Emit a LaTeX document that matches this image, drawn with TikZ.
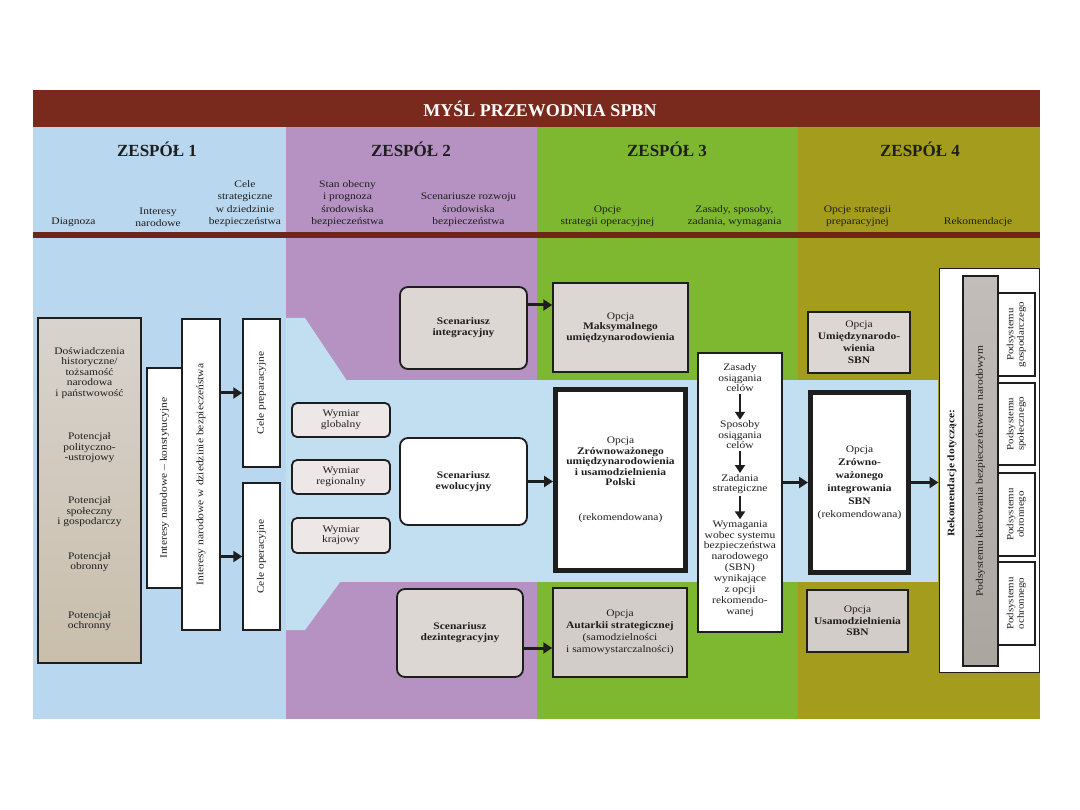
\documentclass[tikz,border=0pt]{standalone}
\usepackage{fontspec}
\setmainfont{Liberation Serif}
\newfontfamily\bodyf{Liberation Serif}[FakeStretch=1.15]
\usepackage{graphicx}
\usetikzlibrary{arrows.meta}
\newcommand\fsz[2]{\fontsize{#1}{#2}\selectfont}
\definecolor{colA}{HTML}{B9D7EE}
\definecolor{bandB}{HTML}{C2DEF1}
\definecolor{colB}{HTML}{B592C2}
\definecolor{colC}{HTML}{7DB830}
\definecolor{colD}{HTML}{A49C1D}
\definecolor{brownbar}{HTML}{7A2A1C}
\definecolor{ink}{HTML}{1E1E1E}
\definecolor{greyboxA}{HTML}{DDD7D4}
\definecolor{greyboxB}{HTML}{D3CDCA}
\definecolor{wymfill}{HTML}{EEE7E7}
\definecolor{diagtop}{HTML}{D8D3CE}
\definecolor{diagbot}{HTML}{C9BEAB}
\definecolor{bartop}{HTML}{C2BDB9}
\definecolor{barbot}{HTML}{ABA5A0}
\tikzset{
  bx/.style={draw=ink, line width=1.5pt, align=center, inner sep=1pt, text=ink,
             font=\bodyf\fsz{10}{10.5}},
  txt/.style={align=center, inner sep=0pt, text=ink, font=\bodyf\fsz{10}{10.5}},
  hdr/.style={align=center, inner sep=0pt, text=ink, font=\bodyf\fsz{10}{12.5}, anchor=south},
  team/.style={inner sep=0pt, text=ink, font=\bfseries\fsz{17}{18}},
  scen/.style={bx, rounded corners=8pt, line width=1.8pt},
  wym/.style={bx, rounded corners=5pt, line width=1.8pt, fill=wymfill},
  heavy/.style={bx, line width=5pt, fill=white},
  arr/.style={line width=3pt, draw=ink, -{Triangle[length=9pt,width=11pt]}},
  arrv/.style={line width=2.6pt, draw=ink, -{Triangle[length=8pt,width=10pt]}},
}
\begin{document}
\begin{tikzpicture}[x=1pt,y=1pt]
\fill[white] (0,0) rectangle (1080,-810);
\path[use as bounding box] (0,0) rectangle (1080,-810);
% columns
\fill[colA] (33,-127) rectangle (286,-719);
\fill[colB] (286,-127) rectangle (537,-719);
\fill[colC] (537,-127) rectangle (798,-719);
\fill[colD] (798,-127) rectangle (1040,-719);
\fill[brownbar] (33,-90) rectangle (1040,-127);
\fill[brownbar!90!black] (33,-232) rectangle (1040,-238);
% central band with arrow head
\fill[bandB] (286,-380) rectangle (938,-582);
\fill[bandB] (286,-318) -- (305,-318) -- (414,-481) -- (305,-630) -- (286,-630) -- cycle;

% title and teams
\node[inner sep=0pt, text=white, font=\bfseries\fsz{18}{19}] (title) at (540,-109) {MYŚL PRZEWODNIA SPBN};
\node[team] (t1) at (157,-149) {ZESPÓŁ 1};
\node[team] (t2) at (411,-149) {ZESPÓŁ 2};
\node[team] (t3) at (667,-149) {ZESPÓŁ 3};
\node[team] (t4) at (920,-149) {ZESPÓŁ 4};

% column headers
\node[hdr] (h1) at (73.5,-227) {Diagnoza};
\node[hdr] (h2) at (158,-227) {Interesy\\narodowe};
\node[hdr] (h3) at (245,-227) {Cele\\strategiczne\\w dziedzinie\\bezpieczeństwa};
\node[hdr] (h4) at (347.5,-227) {Stan obecny\\i prognoza\\środowiska\\bezpieczeństwa};
\node[hdr] (h5) at (468.5,-227) {Scenariusze rozwoju\\środowiska\\bezpieczeństwa};
\node[hdr] (h6) at (607.5,-227) {Opcje\\strategii operacyjnej};
\node[hdr] (h7) at (734.5,-227) {Zasady, sposoby,\\zadania, wymagania};
\node[hdr] (h8) at (857.5,-227) {Opcje strategii\\preparacyjnej};
\node[hdr] (h9) at (978,-227) {Rekomendacje};

% Zespol 1
\node[bx, top color=diagtop, bottom color=diagbot, minimum width=103pt, minimum height=345pt] (diag) at (89.5,-490.5) {};
\node[txt] (d1) at (89.5,-373) {Doświadczenia\\historyczne/\\tożsamość\\narodowa\\i państwowość};
\node[txt] (d2) at (89.5,-448) {Potencjał\\polityczno-\\-ustrojowy};
\node[txt] (d3) at (89.5,-512) {Potencjał\\społeczny\\i gospodarczy};
\node[txt] (d4) at (89.5,-562) {Potencjał\\obronny};
\node[txt] (d5) at (89.5,-621) {Potencjał\\ochronny};

\node[bx, fill=white, minimum width=35pt, minimum height=220pt] (intA) at (164.5,-478) {\rotatebox{90}{Interesy narodowe – konstytucyjne}};
\node[bx, fill=white, minimum width=38pt, minimum height=311pt] (intB) at (201,-474.5) {\rotatebox{90}{Interesy narodowe w dziedzinie bezpieczeństwa}};
\node[bx, fill=white, minimum width=37pt, minimum height=148pt] (celeP) at (261.5,-393) {\rotatebox{90}{Cele preparacyjne}};
\node[bx, fill=white, minimum width=37pt, minimum height=147pt] (celeO) at (261.5,-556.5) {\rotatebox{90}{Cele operacyjne}};
\draw[arr] (intB.east |- celeP.west) -- (celeP.west);
\draw[arr] (intB.east |- celeO.west) -- (celeO.west);

% Zespol 2
\node[wym, minimum width=98pt, minimum height=34pt] (wg) at (341,-420) {Wymiar\\globalny};
\node[wym, minimum width=98pt, minimum height=34pt] (wr) at (341,-477) {Wymiar\\regionalny};
\node[wym, minimum width=98pt, minimum height=35pt] (wk) at (341,-535.5) {Wymiar\\krajowy};

\node[scen, fill=greyboxA, minimum width=127pt, minimum height=82pt, font=\bodyf\bfseries\fsz{10}{11}] (scI) at (463.5,-328) {Scenariusz\\integracyjny};
\node[scen, fill=white, minimum width=127pt, minimum height=87pt, font=\bodyf\bfseries\fsz{10}{11}] (scE) at (463.5,-481.5) {Scenariusz\\ewolucyjny};
\node[scen, fill=greyboxA, minimum width=126pt, minimum height=88pt, font=\bodyf\bfseries\fsz{10}{11}] (scD) at (460,-633) {Scenariusz\\dezintegracyjny};

% Zespol 3
\node[bx, fill=greyboxA, minimum width=135pt, minimum height=89pt] (opM) at (620.5,-327.5) {Opcja\\ \textbf{Maksymalnego}\\ \textbf{umiędzynarodowienia}};
\node[heavy, minimum width=130pt, minimum height=181pt] (opZ) at (620.5,-480) {Opcja\\ \textbf{Zrównoważonego}\\ \textbf{umiędzynarodowienia}\\ \textbf{i usamodzielnienia}\\ \textbf{Polski}\\[24pt] (rekomendowana)};
\node[bx, fill=greyboxB, minimum width=134pt, minimum height=89pt, font=\bodyf\fsz{10}{12}] (opA) at (620,-632.5) {Opcja\\ \textbf{Autarkii strategicznej}\\ (samodzielności\\ i samowystarczalności)};

\draw[arr] ([yshift=23pt]scI.east) -- ([yshift=23pt]scI.east -| opM.west);
\draw[arr] (scE.east) -- (scE.east -| opZ.west);
\draw[arr] ([yshift=-15pt]scD.east) -- ([yshift=-15pt]scD.east -| opA.west);

\node[bx, fill=white, minimum width=84pt, minimum height=279pt] (zas) at (740,-492.5) {};
\node[txt] (z1) at (740,-378) {Zasady\\osiągania\\celów};
\node[txt] (z2) at (740,-435) {Sposoby\\osiągania\\celów};
\node[txt] (z3) at (740,-484) {Zadania\\strategiczne};
\node[txt, font=\bodyf\fsz{10}{10.9}] (z4) at (740,-568.5) {Wymagania\\wobec systemu\\bezpieczeństwa\\narodowego\\(SBN)\\wynikające\\z opcji\\rekomendo-\\wanej};
\draw[arrv] ([yshift=-2pt]z1.south) -- ([yshift=1pt]z2.north);
\draw[arrv] ([yshift=-2pt]z2.south) -- ([yshift=1pt]z3.north);
\draw[arrv] ([yshift=-2pt]z3.south) -- ([yshift=1pt]z4.north);

% Zespol 4
\node[bx, fill=greyboxA, minimum width=102pt, minimum height=61pt, font=\bodyf\fsz{10}{12}] (opU) at (859,-342.5) {Opcja\\ \textbf{Umiędzynarodo-}\\ \textbf{wienia}\\ \textbf{SBN}};
\node[heavy, minimum width=98pt, minimum height=180pt, font=\bodyf\fsz{10}{13}] (opZI) at (859.5,-482.5) {Opcja\\ \textbf{Zrówno-}\\ \textbf{ważonego}\\ \textbf{integrowania}\\ \textbf{SBN}\\ (rekomendowana)};
\node[bx, fill=greyboxB, minimum width=101pt, minimum height=62pt, font=\bodyf\fsz{10}{11.5}] (opS) at (857.5,-621) {Opcja\\ \textbf{Usamodzielnienia}\\ \textbf{SBN}};

\node[bx, fill=white, line width=1pt, minimum width=100pt, minimum height=403pt] (rek) at (989,-470.5) {};
\node[txt, font=\bodyf\bfseries\fsz{10}{11}] (rekT) at (952,-473) {\rotatebox{90}{Rekomendacje dotyczące:}};
\node[bx, line width=1.2pt, top color=bartop, bottom color=barbot, minimum width=35pt, minimum height=390pt] (kier) at (980.5,-471) {\rotatebox{90}{Podsystemu kierowania bezpieczeństwem narodowym}};
\node[bx, fill=white, line width=1.2pt, minimum width=37pt, minimum height=83pt, font=\bodyf\fsz{9.5}{10.5}] (pg) at (1016.5,-334.5) {\rotatebox{90}{\begin{tabular}{@{}c@{}}Podsystemu\\gospodarczego\end{tabular}}};
\node[bx, fill=white, line width=1.2pt, minimum width=37pt, minimum height=82pt, font=\bodyf\fsz{9.5}{10.5}] (ps) at (1016.5,-424) {\rotatebox{90}{\begin{tabular}{@{}c@{}}Podsystemu\\społecznego\end{tabular}}};
\node[bx, fill=white, line width=1.2pt, minimum width=37pt, minimum height=83pt, font=\bodyf\fsz{9.5}{10.5}] (po) at (1016.5,-514.5) {\rotatebox{90}{\begin{tabular}{@{}c@{}}Podsystemu\\obronnego\end{tabular}}};
\node[bx, fill=white, line width=1.2pt, minimum width=37pt, minimum height=83pt, font=\bodyf\fsz{9.5}{10.5}] (pc) at (1016.5,-603.5) {\rotatebox{90}{\begin{tabular}{@{}c@{}}Podsystemu\\ochronnego\end{tabular}}};

\draw[arr] (zas.east |- opZI.west) -- (opZI.west);
\draw[arr] (opZI.east) -- (opZI.east -| rek.west);
\end{tikzpicture}
\end{document}
